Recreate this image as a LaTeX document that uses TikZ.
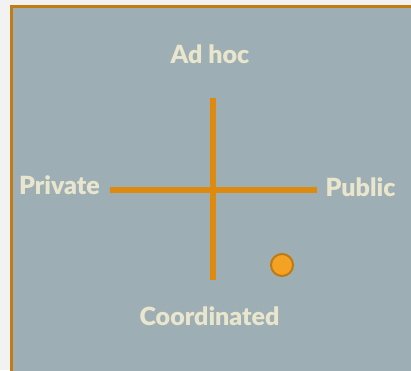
\documentclass[tikz,border=0pt]{standalone}
\usepackage{fontspec}
\setmainfont{Lato}[BoldFont={Lato Black}]
\usetikzlibrary{positioning}

\definecolor{pagegray}{HTML}{F2F2F2}
\definecolor{panelblue}{HTML}{9DAFB4}
\definecolor{frameorange}{HTML}{C17D12}
\definecolor{axisorange}{HTML}{DE8A0E}
\definecolor{dotorange}{HTML}{F4A224}
\definecolor{dotedge}{HTML}{BF7A10}
\definecolor{labelcream}{HTML}{EAE6CE}

\begin{document}
\begin{tikzpicture}[
  x=1pt, y=1pt,
  lbl/.style={anchor=base, inner sep=0pt, text=labelcream, font=\fontsize{25}{30}\selectfont\bfseries},
  axis/.style={draw=axisorange, line width=5.5pt},
  dot/.style={circle, fill=dotorange, draw=dotedge, line width=2pt, minimum size=22pt, inner sep=0pt}
]
\useasboundingbox (0,0) rectangle (411,370);
\clip (0,0) rectangle (411,370);
\fill[pagegray] (0,0) rectangle (411,370);

% panel, running off the right and bottom edges
\draw[fill=panelblue, draw=frameorange, line width=2.5pt] (11.5,363.3) rectangle (430,-20);

% end points of the two axes
\coordinate (left) at (110,180);
\coordinate (right) at (317,180);
\coordinate (top) at (213,272);
\coordinate (bottom) at (213,90);

\draw[axis] (left) -- (right);
\draw[axis] (top) -- (bottom);

\node[lbl] (adhoc) at (210,306.5) {Ad hoc};
\node[lbl] (coord) at (209.5,45) {Coordinated};
\node[lbl] (private) at (59.5,176) {Private};
\node[lbl] (public) at (360.5,173.5) {Public};

\node[dot] (marker) at (282,105) {};
\end{tikzpicture}
\end{document}
